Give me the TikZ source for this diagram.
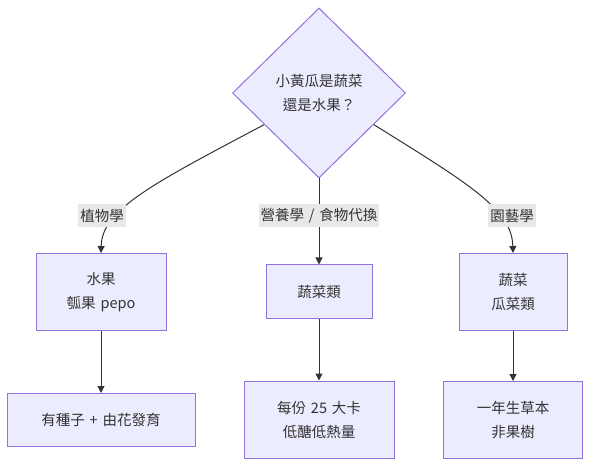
\documentclass[tikz,border=0pt]{standalone}
\usepackage{fontspec}
\setmainfont{Noto Sans CJK TC}[WordSpace={1.5,0,0}]
\usepackage{tikz}
\usetikzlibrary{positioning, shapes.geometric, arrows.meta}
\definecolor{boxfill}{HTML}{ECECFF}
\definecolor{boxline}{HTML}{9370DB}
\definecolor{lblfill}{HTML}{E8E8E8}
\definecolor{ink}{HTML}{333333}
\tikzset{
every path/.style={line width=1pt}
, every node/.style={font=\fontsize{14.5}{24}\selectfont, text=ink, align=center}
, decision/.style={diamond, draw=boxline, fill=boxfill, inner sep=0pt,
  minimum width=173pt, minimum height=170pt}
, plainbox/.style={rectangle, draw=boxline, fill=boxfill, inner sep=0pt}
, edgelabel/.style={fill=lblfill, inner xsep=2pt, inner ysep=0pt, minimum height=23pt}
, conn/.style={draw=ink, -{Triangle[length=7pt, width=7pt]}}}

\begin{document}
\begin{tikzpicture}[x=1pt, y=-1pt]
\useasboundingbox (0,0) rectangle (597,470);
\node[decision] at (319, 93) (q) {小黃瓜是蔬菜\\還是水果？};
\node[plainbox, minimum width=106pt, minimum height=54pt, below=86pt of q] (veg) {蔬菜類};
\node[plainbox, minimum width=130pt, minimum height=77pt, left=99pt of veg] (fruit) {水果\\瓠果 pepo};
\node[plainbox, minimum width=108pt, minimum height=77pt, right=86pt of veg] (gourd) {蔬菜\\瓜菜類};
\node[plainbox, minimum width=188pt, minimum height=53pt, below=62pt of fruit] (seed) {有種子 + 由花發育};
\node[plainbox, minimum width=150pt, minimum height=77pt, below=61pt of veg] (cal) {每份 25 大卡\\低醣低熱量};
\node[plainbox, minimum width=139pt, minimum height=77pt, below=50pt of gourd] (herb) {一年生草本\\非果樹};
\draw [conn] (q.210) .. controls (150,185) and (102,210) .. (fruit.north);
\draw [conn] (q.south) -- (veg.north);
\draw [conn] (q.-30) .. controls (471,185) and (512,210) .. (gourd.north);
\node[edgelabel] at (102, 216) (lbot) {植物學};
\node[edgelabel] at (319, 216) (lnut) {營養學 / 食物代換};
\node[edgelabel] at (512, 216) (lhort) {園藝學};
\draw [conn] (fruit) -- (seed);
\draw [conn] (veg) -- (cal);
\draw [conn] (gourd) -- (herb);
\end{tikzpicture}
\end{document}
